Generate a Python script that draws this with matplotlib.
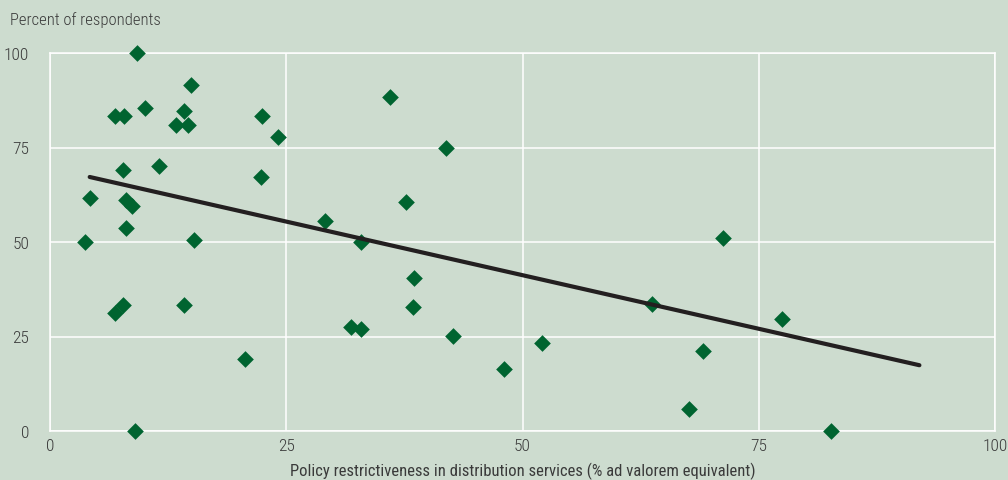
import matplotlib
matplotlib.use("Agg")
import matplotlib.pyplot as plt
from matplotlib import font_manager

# Scatter: policy restrictiveness vs percent of respondents
restrictiveness = [
    3.7, 4.2, 6.9, 7.8, 9.2, 10.1, 7.7, 11.5, 13.3, 14.6, 14.2, 14.9,
    8.0, 8.7, 8.0, 15.2, 6.9, 7.7, 14.2, 20.6, 9.0, 22.4, 24.1, 22.3,
    29.1, 32.9, 31.9, 32.9, 36.0, 37.7, 38.5, 38.4, 41.9, 42.6, 48.0,
    52.1, 63.7, 67.6, 69.1, 71.2, 77.5, 82.6,
]
respondents = [
    50.0, 61.6, 83.3, 83.3, 100.0, 85.4, 69.0, 70.0, 81.0, 81.0, 84.7, 91.5,
    61.1, 59.5, 53.7, 50.5, 31.2, 33.3, 33.3, 19.0, 0.0, 83.3, 77.8, 67.2,
    55.6, 50.0, 27.6, 26.9, 88.4, 60.6, 40.5, 32.8, 74.9, 25.1, 16.4,
    23.3, 33.6, 5.8, 21.2, 51.1, 29.6, 0.0,
]

# Fitted trend line endpoints
trend_x = [4.2, 92.0]
trend_y = [67.2, 17.4]

ticks = [0, 25, 50, 75, 100]

bg = "#cddccf"
text_color = "#3a3a3a"

# pick a condensed face if one is installed
available = {f.name for f in font_manager.fontManager.ttflist}
choice = "DejaVu Sans"
for name in ["Roboto Condensed", "Liberation Sans Narrow", "Archivo Narrow",
             "Barlow Semi Condensed"]:
    if name in available:
        choice = name
        break
font = [choice, "DejaVu Sans"]
plt.rcParams["font.family"] = font
plt.rcParams["font.stretch"] = "condensed"
plt.rcParams["font.weight"] = "light"

fig = plt.figure(figsize=(10.08, 4.81), dpi=100, facecolor=bg)
ax = fig.add_axes([50 / 1008, 49 / 481, 945 / 1008, 378 / 481])
ax.set_facecolor(bg)

ax.scatter(restrictiveness, respondents, marker="D", s=8.5 ** 2,
           color="#006430", linewidths=0, zorder=3, clip_on=False)
ax.plot(trend_x, trend_y, color="#231f20", linewidth=3.0,
        solid_capstyle="round", zorder=4)

ax.set_xlim(0, 100)
ax.set_ylim(0, 100)
ax.set_xticks(ticks)
ax.set_yticks(ticks)
ax.grid(True, color="white", linewidth=1.1)
ax.set_axisbelow(True)
for s in ax.spines.values():
    s.set_color("white")
    s.set_linewidth(1.1)
ax.tick_params(length=0, colors=text_color, labelsize=12.5)
ax.tick_params(axis="x", pad=5)
ax.tick_params(axis="y", pad=15)

ax.set_xlabel("Policy restrictiveness in distribution services (% ad valorem equivalent)",
              fontsize=12, color=text_color, labelpad=6)
fig.text(10 / 1008, 1 - 20 / 481, "Percent of respondents", fontsize=12,
         color=text_color, va="center", ha="left")

fig.savefig("out.png", dpi=100, facecolor=bg)
